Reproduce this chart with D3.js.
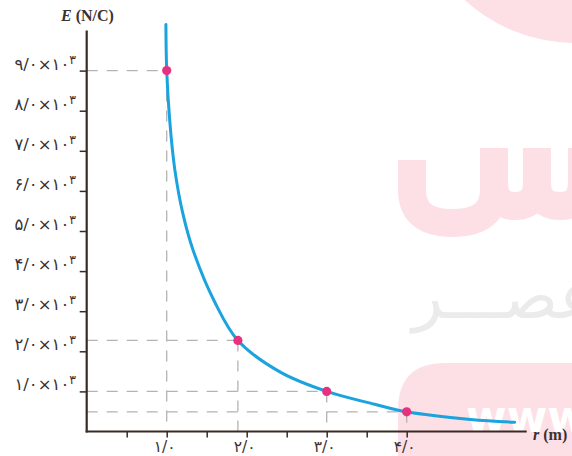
<!DOCTYPE html>
<html>
<head>
<meta charset="utf-8">
<script src="https://cdn.jsdelivr.net/npm/d3@7"></script>
<style>
  html, body { margin: 0; padding: 0; background: #fff; }
  svg { display: block; }
</style>
</head>
<body>
<svg id="chart" width="572" height="456"></svg>
<script>
// ---- data ----
const pointR = [1.0, 1.89, 3.0, 4.0];
const pointE = [9000, 2270, 1000, 490];

const curveR = [0.99, 1.0, 1.04, 1.10, 1.20, 1.33, 1.60, 1.89, 2.42, 3.0, 3.6, 4.0, 4.8, 5.35];
const curveE = [10150, 9000, 7700, 6550, 5450, 4520, 3230, 2270, 1480, 1000, 680, 490, 300, 232];

const yTickValues = [1000, 2000, 3000, 4000, 5000, 6000, 7000, 8000, 9000];
const yTickLabels = ["۱/۰×۱۰", "۲/۰×۱۰", "۳/۰×۱۰", "۴/۰×۱۰", "۵/۰×۱۰", "۶/۰×۱۰", "۷/۰×۱۰", "۸/۰×۱۰", "۹/۰×۱۰"];
const yTickExponent = "۳";

const xTickValues = [0.5, 1.0, 1.5, 2.0, 2.5, 3.0, 3.5, 4.0];
const xTickLabels = ["", "۱/۰", "", "۲/۰", "", "۳/۰", "", "۴/۰"];

const xTitle = "r";
const xUnit = "(m)";
const yTitle = "E";
const yUnit = "(N/C)";

// ---- drawing ----
const svg = d3.select("#chart");
const x = d3.scaleLinear().domain([0, 5.5]).range([86.7, 526.7]);
const y = d3.scaleLinear().domain([0, 10000]).range([431.5, 30.5]);

const axisColor = "#3a2a22";
const textColor = "#3a3232";
const pink = "#fde0e6";

// watermark (background)
const wm = svg.append("g");
wm.append("circle").attr("cx", 575).attr("cy", -120).attr("r", 163).attr("fill", pink);
wm.append("path")
  .attr("d", "M412,160 L412,190 Q412,223 452,223 Q494,223 494,190 L494,148 M494,182 Q494,206 515,206 Q537,206 537,182 L537,148 M537,182 Q537,206 560,206 Q582,206 582,182 L582,148")
  .attr("fill", "none").attr("stroke", pink).attr("stroke-width", 28);
wm.append("text").attr("x", 412).attr("y", 318)
  .attr("font-family", "DejaVu Sans").attr("font-size", 64).attr("fill", "#ebebeb")
  .attr("text-anchor", "start")
  .text("عصـــر");
wm.append("path")
  .attr("d", "M398,456 L398,410 Q398,363 445,363 L600,363 L600,456 Z")
  .attr("fill", pink);
wm.append("text").attr("x", 466).attr("y", 432)
  .attr("font-family", "DejaVu Sans").attr("font-weight", "bold").attr("font-size", 44)
  .attr("fill", "#ffffff").text("www");

// dashed guides
const guides = svg.append("g").attr("stroke", "#b3b3b3").attr("stroke-width", 1.3)
  .attr("stroke-dasharray", "11,9").attr("fill", "none");
pointR.forEach((r, i) => {
  guides.append("line").attr("x1", x(0)).attr("x2", x(r)).attr("y1", y(pointE[i])).attr("y2", y(pointE[i]));
  guides.append("line").attr("x1", x(r)).attr("x2", x(r)).attr("y1", y(pointE[i])).attr("y2", y(0));
});

// y axis ticks + labels
const yAxis = d3.axisLeft(y).tickValues(yTickValues).tickSize(7).tickFormat("");
const gy = svg.append("g").attr("transform", `translate(${x(0)},0)`).call(yAxis);
gy.select(".domain").remove();
gy.selectAll(".tick line").attr("stroke", axisColor).attr("stroke-width", 1.5);
const yLab = svg.append("g");
yTickValues.forEach((v, i) => {
  const t = yLab.append("text").attr("x", 76).attr("y", y(v) - 1)
    .attr("text-anchor", "end").attr("font-family", "DejaVu Sans").attr("font-size", 16.5)
    .attr("letter-spacing", 1.2).attr("fill", textColor).attr("direction", "ltr");
  t.append("tspan").text(yTickLabels[i]);
  t.append("tspan").attr("dy", -6).attr("font-size", 12.5).text(yTickExponent);
});

// x axis ticks + labels
const xAxis = d3.axisBottom(x).tickValues(xTickValues).tickSize(6).tickFormat("");
const gx = svg.append("g").attr("transform", `translate(0,${y(0)})`).call(xAxis);
gx.select(".domain").remove();
gx.selectAll(".tick line").attr("stroke", axisColor).attr("stroke-width", 1.5);
xTickValues.forEach((v, i) => {
  if (!xTickLabels[i]) return;
  svg.append("text").attr("x", x(v) - 2).attr("y", 452)
    .attr("text-anchor", "middle").attr("font-family", "DejaVu Sans").attr("font-size", 15.5)
    .attr("letter-spacing", 1).attr("fill", textColor).attr("direction", "ltr").text(xTickLabels[i]);
});

// axis lines
svg.append("line").attr("x1", x(0)).attr("x2", x(0)).attr("y1", y(0) + 1).attr("y2", y(10000))
  .attr("stroke", axisColor).attr("stroke-width", 2.2);
svg.append("line").attr("x1", x(0) - 1).attr("x2", x(5.5)).attr("y1", y(0)).attr("y2", y(0))
  .attr("stroke", axisColor).attr("stroke-width", 2.2);

// axis titles
const yt = svg.append("text").attr("x", 61).attr("y", 21)
  .attr("font-family", "Liberation Serif").attr("font-weight", "bold").attr("font-size", 16).attr("fill", textColor);
yt.append("tspan").attr("font-style", "italic").text(yTitle);
yt.append("tspan").text(" " + yUnit);
const xt = svg.append("text").attr("x", 533).attr("y", 440)
  .attr("font-family", "Liberation Serif").attr("font-weight", "bold").attr("font-size", 16).attr("fill", textColor);
xt.append("tspan").attr("font-style", "italic").text(xTitle);
xt.append("tspan").text(" " + xUnit);

// curve
const curveData = curveR.map((r, i) => [r, curveE[i]]);
svg.append("path").datum(curveData)
  .attr("d", d3.line().x(d => x(d[0])).y(d => y(d[1])).curve(d3.curveCatmullRom.alpha(0.5)))
  .attr("fill", "none").attr("stroke", "#1aa3dc").attr("stroke-width", 3).attr("stroke-linecap", "round");

// points
svg.append("g").selectAll("circle").data(pointR.map((r, i) => [r, pointE[i]])).join("circle")
  .attr("cx", d => x(d[0])).attr("cy", d => y(d[1])).attr("r", 4.6).attr("fill", "#e6317f");
</script>
</body>
</html>
